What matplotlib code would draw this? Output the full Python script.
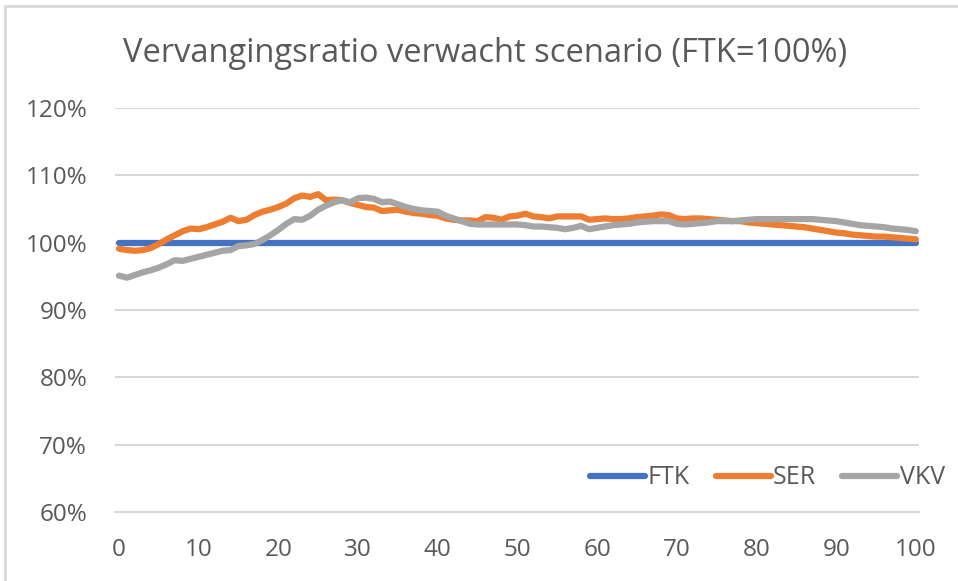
import numpy as np
import matplotlib.pyplot as plt
from matplotlib.patches import Rectangle

# leeftijd / jaren
x = list(range(0, 101))

ftk = [100.0] * 101

ser = [99.1, 98.9, 98.8, 98.9, 99.2, 99.8, 100.5, 101.1, 101.7, 102.1,
       102.0, 102.3, 102.7, 103.1, 103.7, 103.2, 103.4, 104.1, 104.6, 104.9,
       105.3, 105.8, 106.6, 107.0, 106.8, 107.2, 106.3, 106.4, 106.3, 105.9,
       105.6, 105.3, 105.2, 104.7, 104.8, 104.9, 104.6, 104.4, 104.3, 104.1,
       104.0, 103.6, 103.4, 103.3, 103.3, 103.2, 103.8, 103.7, 103.4, 103.9,
       104.0, 104.3, 103.9, 103.8, 103.6, 103.9, 103.9, 103.9, 103.9, 103.4,
       103.5, 103.6, 103.5, 103.5, 103.6, 103.8, 103.9, 104.0, 104.2, 104.1,
       103.6, 103.5, 103.6, 103.6, 103.5, 103.4, 103.3, 103.2, 103.2, 103.0,
       102.9, 102.8, 102.7, 102.6, 102.5, 102.4, 102.3, 102.1, 101.9, 101.7,
       101.5, 101.4, 101.2, 101.1, 101.0, 100.9, 100.9, 100.8, 100.7, 100.6,
       100.5]

vkv = [95.1, 94.8, 95.2, 95.6, 95.9, 96.3, 96.8, 97.4, 97.3, 97.6,
       97.9, 98.2, 98.5, 98.8, 98.9, 99.5, 99.6, 99.8, 100.4, 101.1,
       101.9, 102.8, 103.5, 103.4, 104.0, 104.9, 105.5, 106.0, 106.3, 106.0,
       106.6, 106.7, 106.5, 106.0, 106.1, 105.7, 105.3, 105.0, 104.8, 104.7,
       104.6, 104.0, 103.6, 103.2, 102.8, 102.7, 102.7, 102.7, 102.7, 102.7,
       102.7, 102.6, 102.4, 102.4, 102.3, 102.2, 102.0, 102.2, 102.5, 102.0,
       102.2, 102.4, 102.6, 102.7, 102.8, 103.0, 103.1, 103.2, 103.2, 103.2,
       102.8, 102.7, 102.8, 102.9, 103.0, 103.2, 103.2, 103.2, 103.3, 103.4,
       103.5, 103.5, 103.5, 103.5, 103.5, 103.5, 103.5, 103.5, 103.4, 103.3,
       103.2, 103.0, 102.8, 102.6, 102.5, 102.4, 102.3, 102.1, 102.0, 101.9,
       101.7]

title = 'Vervangingsratio verwacht scenario (FTK=100%)'
yticks = [60, 70, 80, 90, 100, 110, 120]
xticks = [0, 10, 20, 30, 40, 50, 60, 70, 80, 90, 100]

textColor = '#595959'
gridColor = '#d9d9d9'

plt.rcParams['font.family'] = ['Open Sans', 'DejaVu Sans']

fig = plt.figure(figsize=(9.58, 5.81), dpi=100)
# chart frame (only left/top visible in the picture)
fig.patches.append(Rectangle((5 / 958, -0.1), 1.2, 1 - 6 / 581 + 0.1,
                             transform=fig.transFigure, fill=False,
                             edgecolor='#d9d9d9', linewidth=2))

ax = fig.add_axes([115 / 958, 1 - 512 / 581, (919 - 115) / 958, (512 - 108) / 581])

ax.plot(x, ftk, color='#4472c4', linewidth=4.5, label='FTK', solid_capstyle='round')
ax.plot(x, ser, color='#ed7d31', linewidth=4.5, label='SER', solid_capstyle='round')
ax.plot(x, vkv, color='#a5a5a5', linewidth=4.5, label='VKV', solid_capstyle='round')

ax.set_xlim(-0.5, 100.4)
ax.set_ylim(60, 120)
ax.set_yticks(yticks)
ax.set_yticklabels([f'{v}%' for v in yticks])
ax.set_xticks(xticks)
ax.yaxis.grid(True, color=gridColor, linewidth=1.5)
ax.set_axisbelow(True)
for s in ['top', 'right', 'left']:
    ax.spines[s].set_visible(False)
ax.spines['bottom'].set_color(gridColor)
ax.spines['bottom'].set_linewidth(1.5)
ax.tick_params(axis='both', length=0, labelsize=17.5, colors=textColor)
ax.tick_params(axis='y', pad=20)
ax.tick_params(axis='x', pad=19)

fig.text(485 / 958, 1 - 62 / 581, title, ha='center', va='baseline',
         fontsize=23.5, color=textColor)

leg = fig.legend(loc='center right', ncol=3, frameon=False, fontsize=18,
                 handlelength=2.2, columnspacing=1.05, handletextpad=0.1,
                 bbox_to_anchor=(945 / 958, 1 - 478 / 581), labelcolor=textColor,
                 borderpad=0, borderaxespad=0)

fig.savefig('out.png', dpi=100)
